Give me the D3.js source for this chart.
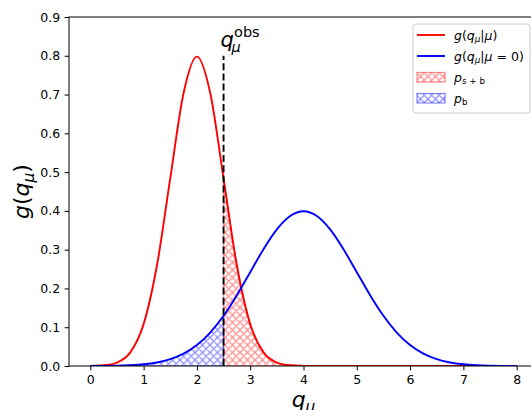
<!DOCTYPE html>
<html>
<head>
<meta charset="utf-8">
<script src="https://cdn.jsdelivr.net/npm/d3@7"></script>
<style>
  body { margin: 0; background: #fff; }
  svg { display: block; font-family: "DejaVu Sans", sans-serif; }
</style>
</head>
<body>
<script>
// sample points
const qValues = [0, 0.25, 0.5, 0.75, 1, 1.25, 1.5, 1.75, 2, 2.25, 2.5, 2.75, 3, 3.25, 3.5, 3.75,
  4, 4.25, 4.5, 4.75, 5, 5.25, 5.5, 5.75, 6, 6.25, 6.5, 6.75, 7, 7.25, 7.5, 7.75, 8];
const gMu = [0.0003, 0.0018, 0.0089, 0.0351, 0.1080, 0.2591, 0.4839, 0.7041, 0.7979, 0.7041,
  0.4839, 0.2591, 0.1080, 0.0351, 0.0089, 0.0018, 0.0003, 0, 0, 0, 0, 0, 0, 0, 0, 0, 0, 0, 0, 0, 0, 0, 0];
const gZero = [0.0001, 0.0004, 0.0009, 0.0020, 0.0044, 0.0091, 0.0175, 0.0317, 0.0540, 0.0863,
  0.1295, 0.1826, 0.2420, 0.3011, 0.3521, 0.3867, 0.3989, 0.3867, 0.3521, 0.3011, 0.2420, 0.1826,
  0.1295, 0.0863, 0.0540, 0.0317, 0.0175, 0.0091, 0.0044, 0.0020, 0.0009, 0.0004, 0.0001];
const qObs = 2.5;
const obsLineTop = 0.8;
const xTicks = [0, 1, 2, 3, 4, 5, 6, 7, 8];
const yTicks = [0, 0.1, 0.2, 0.3, 0.4, 0.5, 0.6, 0.7, 0.8, 0.9];

const W = 531, H = 410;
const margin = {left: 69, top: 17, right: -7, bottom: 44};

const svg = d3.select("body").append("svg")
    .attr("width", W).attr("height", H);

const x = d3.scaleLinear().domain([-0.4, 8.4]).range([margin.left, W - margin.right]);
const y = d3.scaleLinear().domain([0, 0.9]).range([H - margin.bottom, margin.top]);

const defs = svg.append("defs");
defs.append("clipPath").attr("id", "plot")
  .append("rect")
    .attr("x", x(-0.4)).attr("y", y(0.9))
    .attr("width", x(8.4) - x(-0.4)).attr("height", y(0) - y(0.9));

function hatch(id, color) {
  const s = 7.5;
  const p = defs.append("pattern")
      .attr("id", id)
      .attr("patternUnits", "userSpaceOnUse")
      .attr("width", s).attr("height", s);
  p.append("path")
      .attr("d", `M-1,1 L1,-1 M0,${s} L${s},0 M${s - 1},${s + 1} L${s + 1},${s - 1}
                  M-1,${s - 1} L1,${s + 1} M0,0 L${s},${s} M${s - 1},-1 L${s + 1},1`)
      .attr("stroke", color)
      .attr("stroke-opacity", 0.45)
      .attr("stroke-width", 1.25)
      .attr("fill", "none");
}
hatch("hatchRed", "red");
hatch("hatchBlue", "blue");

const pts = (vals) => qValues.map((q, i) => [q, vals[i]]);
const line = d3.line().x(d => x(d[0])).y(d => y(d[1])).curve(d3.curveMonotoneX);
const area = d3.area().x(d => x(d[0])).y0(y(0)).y1(d => y(d[1])).curve(d3.curveMonotoneX);

const plot = svg.append("g").attr("clip-path", "url(#plot)");

// hatched tail areas
plot.append("path")
    .datum(pts(gMu).filter(d => d[0] >= qObs))
    .attr("d", area)
    .attr("fill", "url(#hatchRed)")
    .attr("stroke", "red").attr("stroke-opacity", 0.45).attr("stroke-width", 1.25);
plot.append("path")
    .datum(pts(gZero).filter(d => d[0] <= qObs))
    .attr("d", area)
    .attr("fill", "url(#hatchBlue)")
    .attr("stroke", "blue").attr("stroke-opacity", 0.45).attr("stroke-width", 1.25);

plot.append("path")
    .datum(pts(gMu))
    .attr("d", line)
    .attr("fill", "none").attr("stroke", "red").attr("stroke-width", 1.9);
plot.append("path")
    .datum(pts(gZero))
    .attr("d", line)
    .attr("fill", "none").attr("stroke", "blue").attr("stroke-width", 1.9);

// observed value
plot.append("line")
    .attr("x1", x(qObs)).attr("x2", x(qObs))
    .attr("y1", y(0)).attr("y2", y(obsLineTop))
    .attr("stroke", "black").attr("stroke-width", 1.9)
    .attr("stroke-dasharray", "7,3.2");

// axes
const xAxis = svg.append("g")
    .attr("transform", `translate(0,${y(0)})`)
    .call(d3.axisBottom(x).tickValues(xTicks).tickSize(4.4).tickPadding(4.4).tickFormat(d3.format("d")));
const yAxis = svg.append("g")
    .attr("transform", `translate(${x(-0.4)},0)`)
    .call(d3.axisLeft(y).tickValues(yTicks).tickSize(4.4).tickPadding(4.4).tickFormat(d3.format(".1f")));
[xAxis, yAxis].forEach(a => {
  a.select(".domain").remove();
  a.selectAll("text").attr("font-size", 12.5).attr("font-family", "DejaVu Sans").attr("fill", "#000");
  a.selectAll("line").attr("stroke", "#000").attr("stroke-width", 1);
});
svg.append("rect")
    .attr("x", x(-0.4)).attr("y", y(0.9))
    .attr("width", x(8.4) - x(-0.4)).attr("height", y(0) - y(0.9))
    .attr("fill", "none").attr("stroke", "#000").attr("stroke-width", 1);

// mathtext-like helper
function mathText(sel, parts, size) {
  let shift = 0;
  parts.forEach(p => {
    let dy = 0, fs = size;
    if (p.sub) { dy = size * 0.22; fs = size * 0.7; }
    if (p.sup) { dy = -size * 0.42; fs = size * 0.7; }
    sel.append("tspan")
        .attr("dy", dy - shift)
        .attr("font-size", fs)
        .attr("font-style", p.it ? "italic" : "normal")
        .text(p.t);
    shift = dy;
  });
  return sel;
}

// labels
mathText(svg.append("text")
    .attr("transform", `translate(${(x(-0.4) + x(8.4)) / 2},${407})`)
    .attr("text-anchor", "middle"),
  [{t: "q", it: true}, {t: "μ", it: true, sub: true}], 22);

mathText(svg.append("text")
    .attr("transform", `translate(${29},${(y(0) + y(0.9)) / 2}) rotate(-90)`)
    .attr("text-anchor", "middle"),
  [{t: "g", it: true}, {t: "(", it: false}, {t: "q", it: true}, {t: "μ", it: true, sub: true}, {t: ")", it: false}], 22);

// q_mu^obs annotation
const annX = x(qObs) - 3, annY = 47;
svg.append("text").attr("x", annX).attr("y", annY)
    .attr("font-size", 21).attr("font-style", "italic").text("q");
svg.append("text").attr("x", annX + 11).attr("y", annY + 5)
    .attr("font-size", 14.5).attr("font-style", "italic").text("μ");
svg.append("text").attr("x", annX + 13.5).attr("y", annY - 10)
    .attr("font-size", 14.5).text("obs");

// legend
const lg = svg.append("g").attr("transform", "translate(413,24)");
lg.append("rect")
    .attr("width", 117).attr("height", 89).attr("rx", 3)
    .attr("fill", "white").attr("fill-opacity", 0.8)
    .attr("stroke", "#ccc").attr("stroke-width", 1);
const entries = [
  {kind: "line", color: "red", parts: [{t: "g", it: true}, {t: "("}, {t: "q", it: true}, {t: "μ", it: true, sub: true}, {t: "|"}, {t: "μ", it: true}, {t: ")"}]},
  {kind: "line", color: "blue", parts: [{t: "g", it: true}, {t: "("}, {t: "q", it: true}, {t: "μ", it: true, sub: true}, {t: "|"}, {t: "μ", it: true}, {t: " = 0"}, {t: ")"}]},
  {kind: "patch", color: "red", fill: "url(#hatchRed)", parts: [{t: "p", it: true}, {t: "s + b", sub: true}]},
  {kind: "patch", color: "blue", fill: "url(#hatchBlue)", parts: [{t: "p", it: true}, {t: "b", sub: true}]}
];
entries.forEach((e, i) => {
  const cy = 11 + i * 21;
  if (e.kind === "line") {
    lg.append("line").attr("x1", 4).attr("x2", 32).attr("y1", cy).attr("y2", cy)
        .attr("stroke", e.color).attr("stroke-width", 1.9);
  } else {
    lg.append("rect").attr("x", 4).attr("y", cy - 4.5).attr("width", 28).attr("height", 9.5)
        .attr("fill", e.fill).attr("stroke", e.color).attr("stroke-opacity", 0.45).attr("stroke-width", 1.25);
  }
  mathText(lg.append("text").attr("x", 41).attr("y", cy + 4.5), e.parts, 12.5);
});
</script>
</body>
</html>
